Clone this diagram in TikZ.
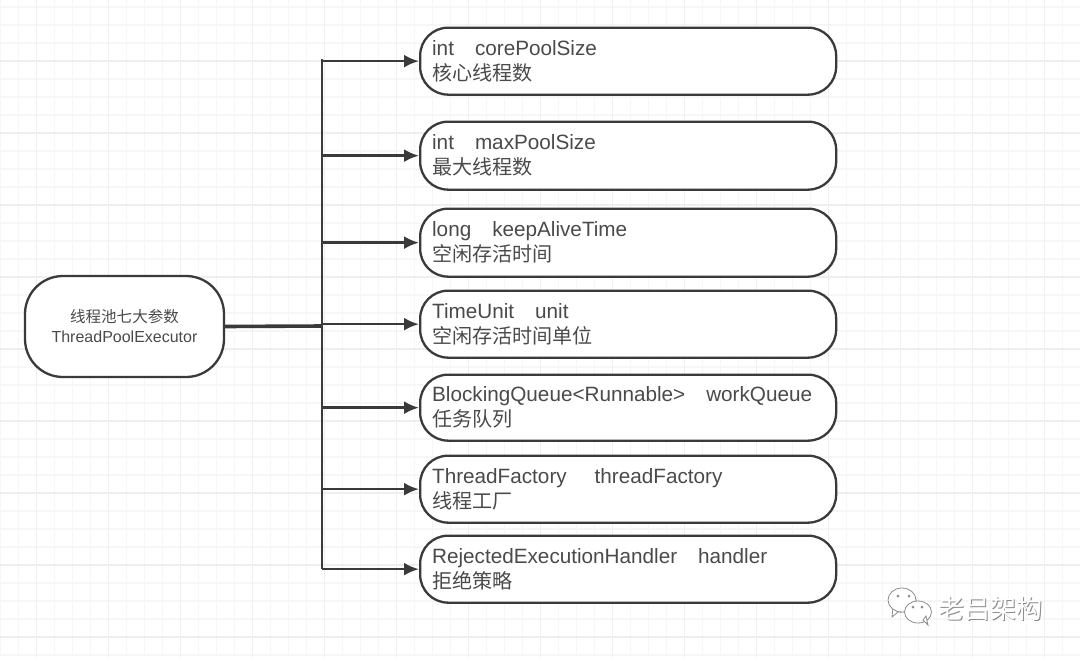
\documentclass[tikz,border=0pt]{standalone}
\usepackage{fontspec}
\setmainfont{Liberation Sans}
\newfontfamily\cjk[Scale=0.97]{Noto Sans CJK SC}
\newfontfamily\markfont{Noto Sans CJK SC}
\usetikzlibrary{arrows.meta}
\definecolor{ink}{HTML}{3A3A3A}
\definecolor{txt}{HTML}{4A4A4A}
\definecolor{gridminor}{HTML}{F6F6F6}
\definecolor{gridmajor}{HTML}{EEEEEE}
\definecolor{markedge}{HTML}{8C8C8C}
\tikzset{
  param/.style={draw=ink,line width=2.3pt,fill=white,rounded corners=28pt,minimum width=416pt,minimum height=67pt,
    anchor=north west,align=left,text=txt,font=\fontsize{20.7pt}{25pt}\selectfont,inner sep=0pt,text width=392pt},
  root/.style={draw=ink,line width=2.3pt,fill=white,rounded corners=38pt,minimum width=199pt,minimum height=101pt,
    align=center,text=txt,font=\fontsize{16pt}{20pt}\selectfont,inner sep=0pt},
  link/.style={draw=ink,line width=2.6pt,-{Latex[length=15pt,width=13pt]}},
  trunk/.style={draw=ink,line width=2.8pt},
  bubble/.style={draw=markedge,line width=0.8pt,fill=white},
  markdot/.style={fill=markedge,draw=none},
  marktext/.style={font=\markfont\fontsize{26pt}{26pt}\selectfont,inner sep=0pt},
}
\begin{document}
\begin{tikzpicture}[x=1pt,y=-1pt]
\useasboundingbox (0,0) rectangle (1080,657);
\fill[white] (0,0) rectangle (1080,657);
% grid
\foreach \i in {0,...,60} {
  \draw[gridminor,line width=1.6pt] ({0.5+18*\i},0) -- ({0.5+18*\i},657);
}
\foreach \i in {0,...,37} {
  \draw[gridminor,line width=1.6pt] (0,{7+18*\i}) -- (1080,{7+18*\i});
}
\foreach \i in {0,...,14} {
  \draw[gridmajor,line width=1.6pt] ({36.5+72*\i},0) -- ({36.5+72*\i},657);
}
\foreach \i in {0,...,9} {
  \draw[gridmajor,line width=1.6pt] (0,{61+72*\i}) -- (1080,{61+72*\i});
}
% boxes
\node[root] (r) at (124.5,326.5) {{\cjk 线程池七大参数}\\ThreadPoolExecutor};
\node[param] (a) at (419,26.5)  {int\hspace{21pt}corePoolSize\\{\cjk 核心线程数}};
\node[param,minimum height=68pt] (b) at (419,120.5) {int\hspace{21pt}maxPoolSize\\{\cjk 最大线程数}};
\node[param,minimum height=68pt] (c) at (419,207.5) {long\hspace{21pt}keepAliveTime\\{\cjk 空闲存活时间}};
\node[param] (d) at (419,289.5) {TimeUnit\hspace{21pt}unit\\{\cjk 空闲存活时间单位}};
\node[param,minimum height=66pt] (e) at (419,373.5) {BlockingQueue<Runnable>\hspace{21pt}workQueue\\{\cjk 任务队列}};
\node[param] (f) at (419,454.5) {ThreadFactory\hspace{28pt}threadFactory\\{\cjk 线程工厂}};
\node[param] (g) at (419,534.5) {RejectedExecutionHandler\hspace{21pt}handler\\{\cjk 拒绝策略}};
% connectors
\coordinate (j) at (322,326);
\coordinate (top) at (322,60);
\coordinate (bot) at (322,568);
\draw[trunk,line width=3.6pt] (r.east) -- (j);
\draw[trunk,line cap=rect] (top) -- (bot);
\foreach \n in {a,b,c,d,e,f,g} {
  \draw[link] (\n.west -| j) -- (\n.west);
}
% watermark
\draw[bubble] (893,607) -- (900,612) .. controls (888,611) and (888,589) .. (902,589) .. controls (914,589) and (919,600) .. (914,606) -- (898,612) -- (892,617) -- cycle;
\filldraw[bubble] (902,600) ellipse (14 and 12);
\filldraw[bubble] (918,612) ellipse (13.5 and 11);
\filldraw[bubble] (923,620) -- (928,625) -- (926,616) -- cycle;
\fill[markdot] (898,596) circle (1.5);
\fill[markdot] (909,596) circle (1.5);
\fill[markdot] (913,607) circle (1.5);
\fill[markdot] (922,607) circle (1.5);
\node[marktext,text=markedge,anchor=west] (w2) at (938.8,609.8) {老吕架构};
\node[marktext,text=white,anchor=west] (w1) at (938,609) {老吕架构};
\end{tikzpicture}
\end{document}
